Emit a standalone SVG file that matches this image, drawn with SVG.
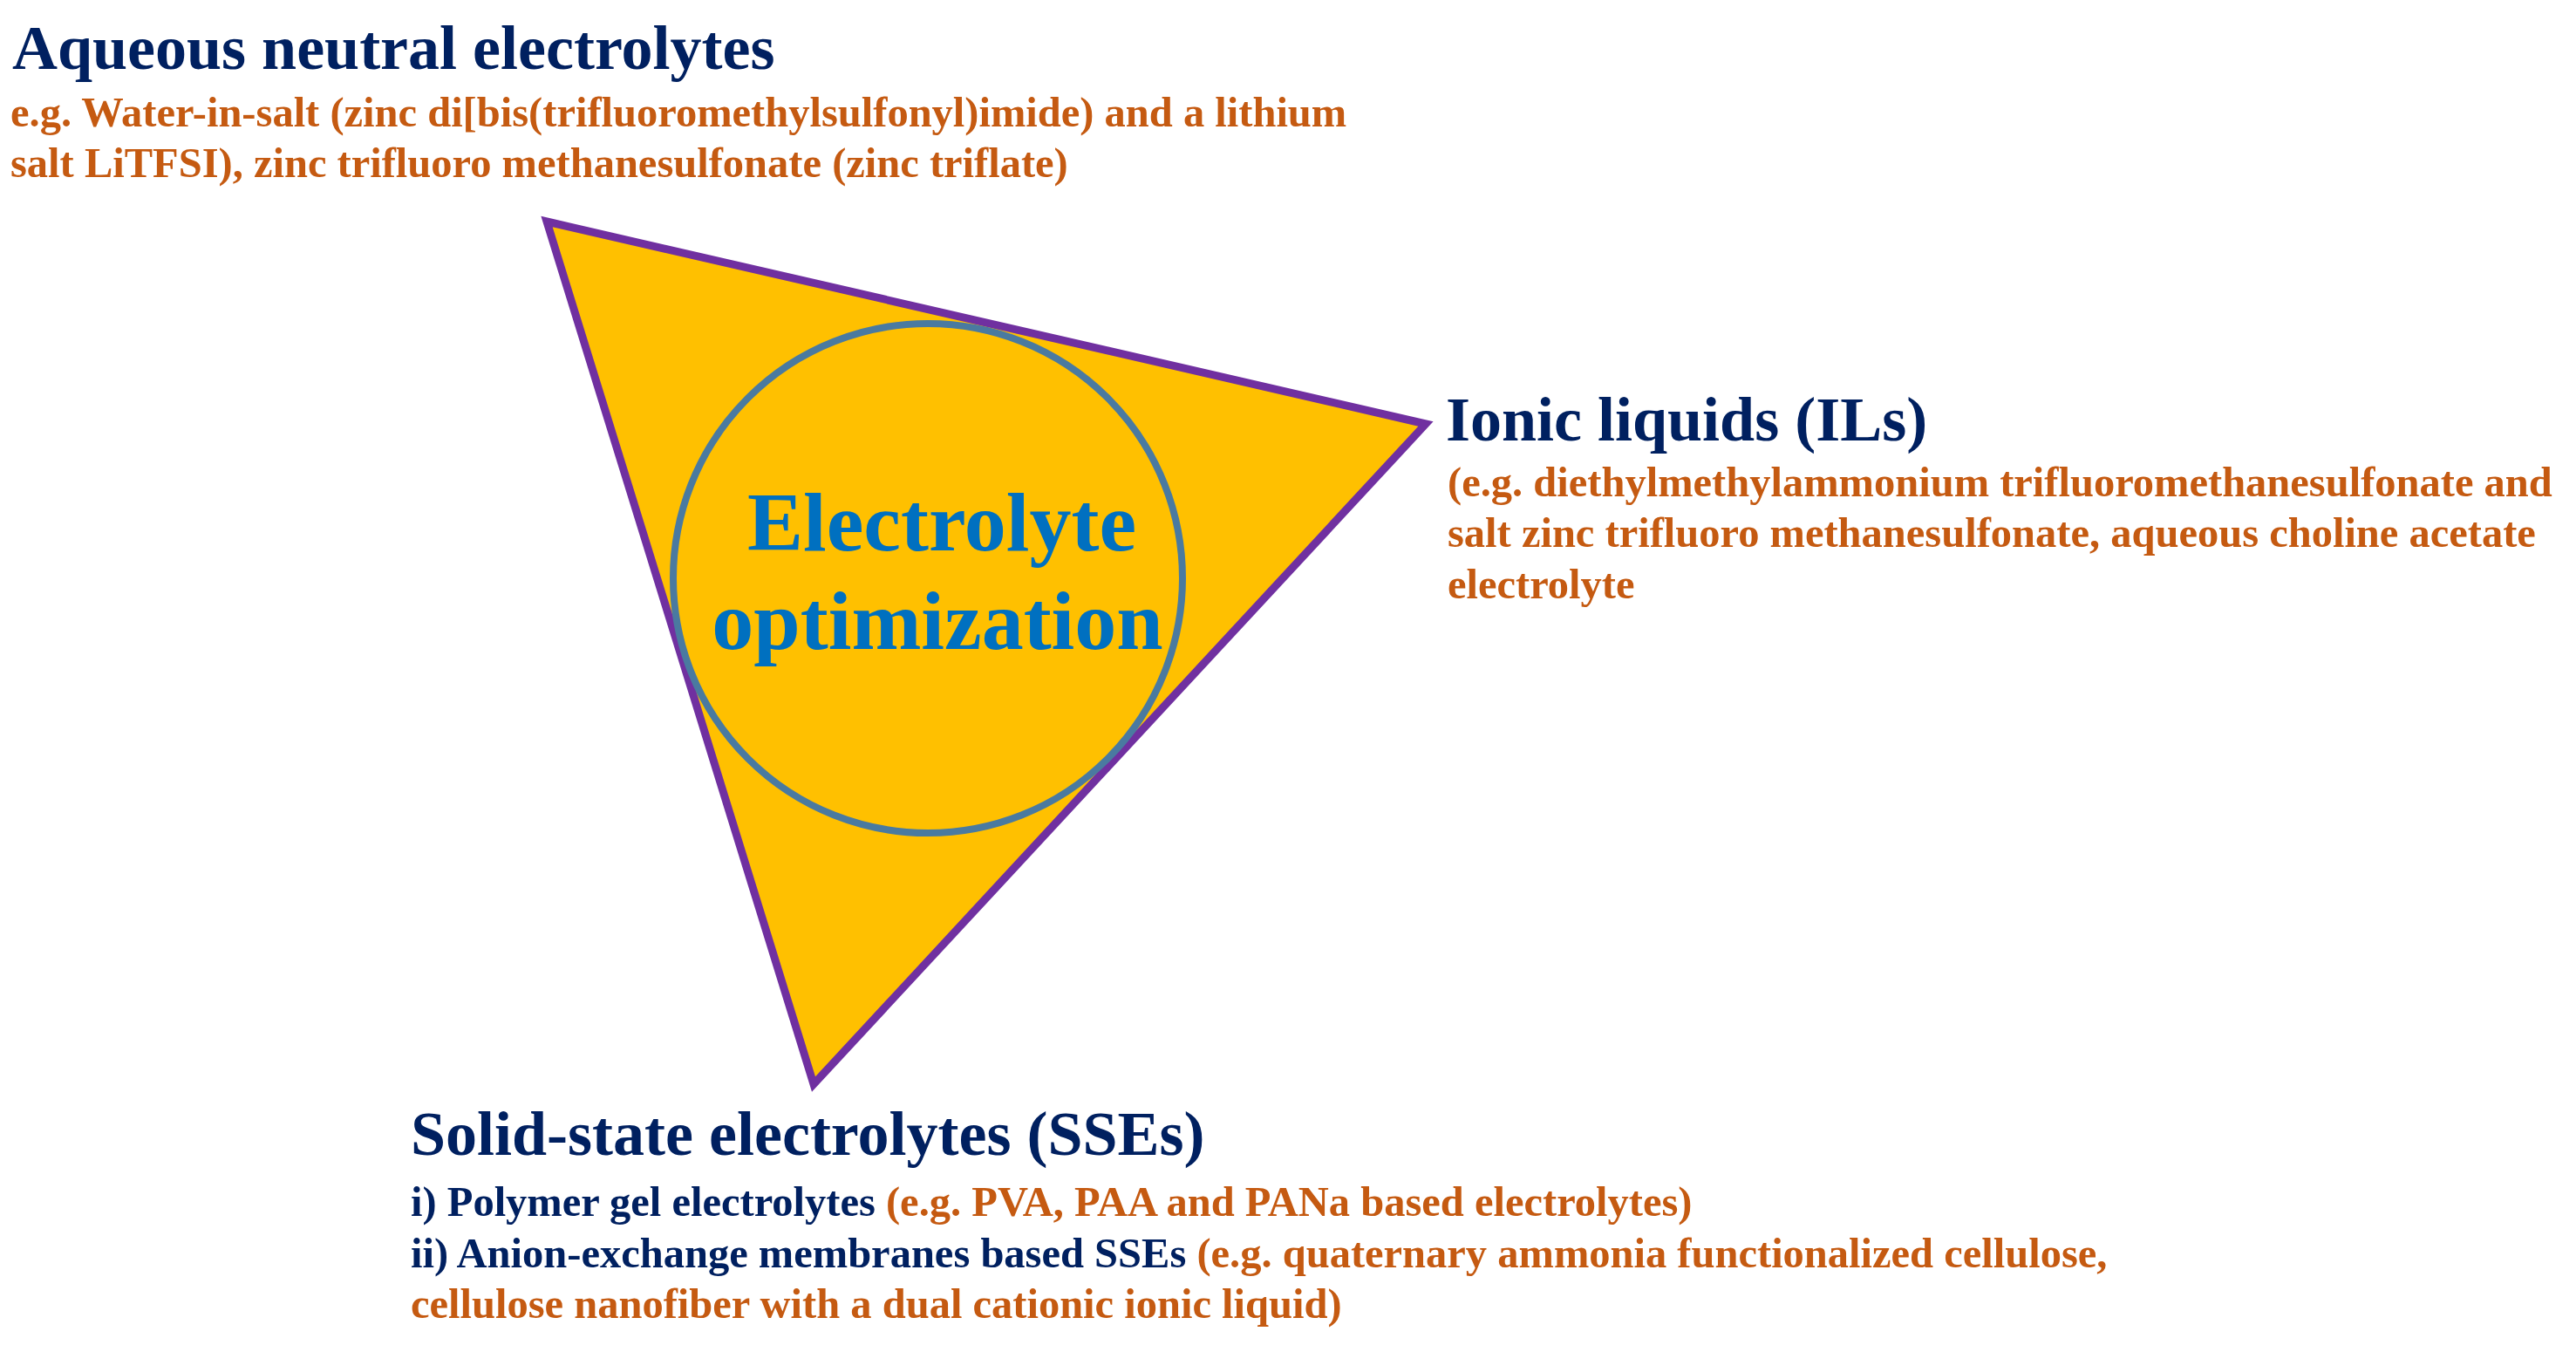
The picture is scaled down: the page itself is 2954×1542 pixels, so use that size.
<svg xmlns="http://www.w3.org/2000/svg" width="2954" height="1542" viewBox="0 0 2954 1542">
<style>
text{font-family:"Liberation Serif","Times New Roman",serif;font-weight:bold}
.h{fill:#002060;font-size:72px}
.o{fill:#C55A11;font-size:48.5px}
.n{fill:#002060}
.c{fill:#0070C0;font-size:96px;text-anchor:middle}
</style>
<rect width="2954" height="1542" fill="#fff"/>
<g id="triangle"><polygon points="627,254 1635,486 933,1243" fill="#FFC000" stroke="#7030A0" stroke-width="9" stroke-linejoin="miter"/></g>
<g id="center"><circle cx="1064" cy="663" r="292" fill="#FFC000" stroke="#4A7AA0" stroke-width="8"/>
<text class="c" x="1080" y="631">Electrolyte</text><text class="c" x="1075" y="744">optimization</text></g>
<g id="aqueous"><text class="h" x="14" y="79">Aqueous neutral electrolytes</text>
<text class="o" x="12" y="145">e.g. Water-in-salt (zinc di[bis(trifluoromethylsulfonyl)imide) and a lithium</text>
<text class="o" x="12" y="203">salt LiTFSI), zinc trifluoro methanesulfonate (zinc triflate)</text></g>
<g id="ionic"><text class="h" x="1658" y="505">Ionic liquids (ILs)</text>
<text class="o" x="1660" y="569">(e.g. diethylmethylammonium trifluoromethanesulfonate and</text>
<text class="o" x="1660" y="627">salt zinc trifluoro methanesulfonate, aqueous choline acetate</text>
<text class="o" x="1660" y="686">electrolyte</text></g>
<g id="sse"><text class="h" x="471" y="1324">Solid-state electrolytes (SSEs)</text>
<text class="o" x="471" y="1394"><tspan class="n">i) Polymer gel electrolytes </tspan>(e.g. PVA, PAA and PANa based electrolytes)</text>
<text class="o" x="471" y="1453"><tspan class="n">ii) Anion-exchange membranes based SSEs </tspan>(e.g. quaternary ammonia functionalized cellulose,</text>
<text class="o" x="471" y="1511">cellulose nanofiber with a dual cationic ionic liquid)</text></g>
<g id="connectors"/>
</svg>
